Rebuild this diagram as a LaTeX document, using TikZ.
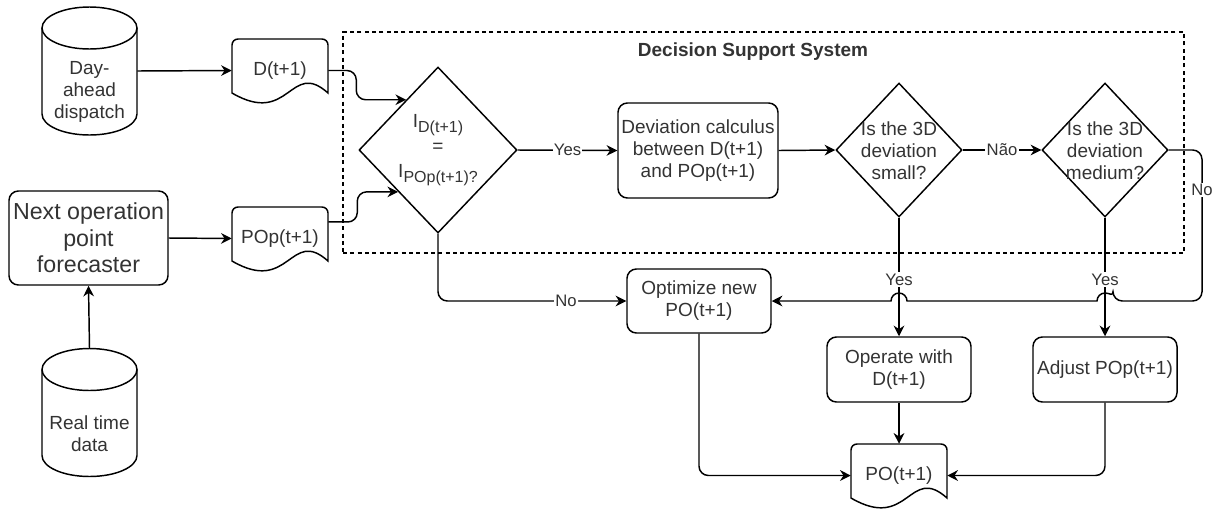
\documentclass[tikz,border=0pt]{standalone}
\usepackage{fontspec}
\setmainfont{Liberation Sans}
\usetikzlibrary{arrows.meta,shapes.geometric,calc}
\definecolor{txtc}{HTML}{333333}
\newcommand{\sbs}[1]{\raisebox{-0.5ex}{\fontsize{12pt}{12pt}\selectfont #1}}
% document shape: #1 = centre x, #2 = centre y (px, downwards)
\newcommand{\docshape}[2]{%
  \draw[ln] (#1-48,-#2-22.5) {[rounded corners=4.5pt] -- (#1-48,-#2+31.5) -- (#1+48,-#2+31.5)} -- (#1+48,-#2-22.5)
    .. controls (#1+10,-#2-22.5+34) and (#1+10,-#2-22.5-34) .. (#1-48,-#2-22.5) -- cycle;}
% cylinder: #1 = centre x, #2 = top y (px)
\newcommand{\cylshape}[2]{%
  \draw[ln] (#1,-#2-21) ellipse [x radius=47.5, y radius=21];
  \draw[ln] (#1-47.5,-#2-21) -- (#1-47.5,-#2-107) arc[start angle=180,end angle=360,x radius=47.5,y radius=21] -- (#1+47.5,-#2-21);}
\tikzset{
  ln/.style={line width=1.1pt},
  base/.style={font=\fontsize{14.25pt}{16.5pt}\selectfont, text=txtc, align=center},
  proc/.style={base, draw, line width=1.1pt, rounded corners=7pt, inner sep=2pt},
  dia/.style={draw, diamond, line width=1.1pt, inner sep=0pt},
  doctext/.style={base, minimum width=72pt, minimum height=47.25pt, inner sep=0pt},
  cylbox/.style={minimum width=71.25pt, minimum height=96pt, inner sep=0pt},
  lbl/.style={font=\fontsize{12.5pt}{14pt}\selectfont, text=txtc, fill=white, inner sep=1pt},
  arr/.style={line width=1.1pt, -{Stealth[length=8pt,width=8pt]}},
}
\begin{document}
\begin{tikzpicture}[x=0.75pt,y=0.75pt]
\useasboundingbox (0,0) rectangle (1213,-508);

% container
\node[draw, line width=0.8pt, dash pattern=on 3pt off 2.5pt, minimum width=630.75pt, minimum height=165.75pt, inner sep=0pt] (dss) at (763.5,-142.5) {};
\node[font=\bfseries\fontsize{14.25pt}{16pt}\selectfont, text=txtc] (dsst) at (753,-52) {Decision Support System};

% cylinders
\node[cylbox] (dad) at (89.5,-71) {};
\cylshape{89.5}{7}
\node[base] (dadt) at (89.5,-92) {Day-\\ahead\\dispatch};

\node[cylbox] (rtd) at (89.5,-412.5) {};
\cylshape{89.5}{348.5}
\node[base] (rtdt) at (89.5,-434) {Real time\\data};

% forecaster
\node[proc, font=\fontsize{17.4pt}{20pt}\selectfont, minimum width=119.25pt, minimum height=70.5pt] (fc) at (88.5,-238) {Next operation\\point\\forecaster};

% documents
\docshape{280}{70.5}
\node[doctext] (docD) at (280,-70.5) {D(t+1)};
\docshape{280}{238.5}
\node[doctext] (docP) at (280,-238.5) {POp(t+1)};
\docshape{899}{475.5}
\node[doctext] (docPO) at (899,-475.5) {PO(t+1)};

% decisions
\node[dia, minimum width=118.5pt, minimum height=124.5pt] (d1) at (438,-150) {};
\node[base, font=\fontsize{14.25pt}{19pt}\selectfont] (d1t) at (438,-150) {I\sbs{D(t+1)}\\=\\I\sbs{POp(t+1)?}};
\node[dia, minimum width=94.5pt, minimum height=100.5pt] (d2) at (899,-150) {};
\node[base] (d2t) at (899,-151) {Is the 3D\\deviation\\small?};
\node[dia, minimum width=94.5pt, minimum height=100.5pt] (d3) at (1105,-150) {};
\node[base] (d3t) at (1105,-151) {Is the 3D\\deviation\\medium?};

% processes
\node[proc, minimum width=120pt, minimum height=71.25pt] (dev) at (698,-150.5) {Deviation calculus\\between D(t+1)\\and POp(t+1)};
\node[proc, minimum width=108pt, minimum height=48pt] (opt) at (699,-301) {Optimize new\\PO(t+1)};
\node[proc, minimum width=108pt, minimum height=48.75pt] (op) at (899,-369.5) {Operate with\\D(t+1)};
\node[proc, minimum width=108pt, minimum height=48.75pt] (adj) at (1105,-369.5) {Adjust POp(t+1)};

% connectors
\draw[arr] (dad.east) -- (docD.west);
\draw[arr] (fc.east) -- (docP.west);
\draw[arr] (rtd.north) -- (fc.south);
\draw[arr, rounded corners=7pt] (docD.east) -- ++(28,0) |- ($(d1.west)!0.6!(d1.north)$);
\draw[arr, rounded corners=7pt] ([yshift=12.4pt]docP.east) -- ++(29,0) |- ($(d1.west)!0.5!(d1.south)$);
\draw[arr] (d1.east) -- node[lbl] (ly1) {Yes} (dev.west);
\draw[arr] (dev.east) -- (d2.west);
\draw[arr] (d2.east) -- node[lbl] (lnao) {Não} (d3.west);
\draw[arr, rounded corners=7pt] (d1.south) |- node[lbl, pos=0.84] (lno1) {No} (opt.west);

\coordinate (cR) at (1202,-301);
\draw[arr] (d3.east) {[rounded corners=7pt] -- (d3.east -| cR) -- (cR) -- ($(d3.south |- cR)+(6pt,0)$)}
  arc[start angle=0,end angle=180,radius=6pt] -- ($(d2.south |- cR)+(6pt,0)$)
  arc[start angle=0,end angle=180,radius=6pt] -- (opt.east);
\node[lbl] (lno2) at (1202,-190) {No};

\draw[arr] (d2.south) -- node[lbl, pos=0.52] (ly2) {Yes} (op.north);
\draw[arr] (d3.south) -- node[lbl, pos=0.52] (ly3) {Yes} (adj.north);
\draw[arr] (op.south) -- (docPO.north);
\draw[arr, rounded corners=7pt] (opt.south) |- (docPO.west);
\draw[arr, rounded corners=7pt] (adj.south) |- (docPO.east);
\end{tikzpicture}
\end{document}
